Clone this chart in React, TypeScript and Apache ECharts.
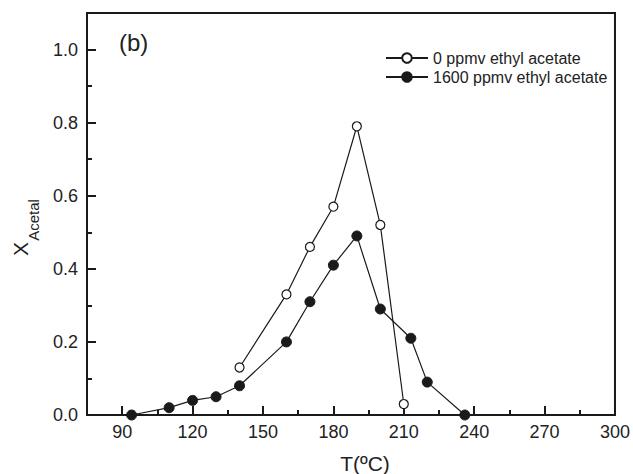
import React, { useEffect, useRef } from "react";
import * as echarts from "echarts";

// Temperature (ºC) and acetal conversion for each feed
const tempNoEA = [140, 160, 170, 180, 190, 200, 210];
const convNoEA = [0.13, 0.33, 0.46, 0.57, 0.79, 0.52, 0.03];

const tempEA = [94, 110, 120, 130, 140, 160, 170, 180, 190, 200, 213, 220, 236];
const convEA = [0.0, 0.02, 0.04, 0.05, 0.08, 0.2, 0.31, 0.41, 0.49, 0.29, 0.21, 0.09, 0.0];

const seriesNames = ["0 ppmv ethyl acetate", "1600 ppmv ethyl acetate"];

const xMajor = [90, 120, 150, 180, 210, 240, 270, 300];
const xMinor = [105, 135, 165, 195, 225, 255, 285];
const yMajor = [0, 0.2, 0.4, 0.6, 0.8, 1.0];
const yMinor = [0.1, 0.3, 0.5, 0.7, 0.9];

const FONT = "'Liberation Sans', Arial, Helvetica, sans-serif";
const INK = "#1a1a1a";
const TEXT = "#222";

const pairs = (xs: number[], ys: number[]) => xs.map((x, i) => [x, ys[i]]);

export default function App() {
  const ref = useRef<HTMLDivElement>(null);

  useEffect(() => {
    if (!ref.current) return;
    const chart = echarts.init(ref.current, null, { renderer: "svg" });

    const baseX = {
      type: "value" as const,
      min: 75,
      max: 300,
      position: "bottom" as const,
      splitLine: { show: false },
    };
    const baseY = {
      type: "value" as const,
      min: 0,
      max: 1.1,
      position: "left" as const,
      splitLine: { show: false },
    };

    chart.setOption({
      animation: false,
      backgroundColor: "#fff",
      grid: {
        left: 87,
        right: 15,
        top: 13,
        bottom: 59,
        show: true,
        borderColor: INK,
        borderWidth: 2,
        backgroundColor: "transparent",
      },
      legend: {
        orient: "vertical",
        left: 385,
        top: 50,
        padding: 0,
        itemWidth: 42,
        itemHeight: 12,
        itemGap: 3,
        data: seriesNames,
        textStyle: { fontFamily: FONT, fontSize: 16, color: TEXT },
      },
      xAxis: [
        {
          ...baseX,
          axisLine: { show: true, lineStyle: { color: INK, width: 2 } },
          axisTick: {
            show: true,
            inside: true,
            length: 9,
            lineStyle: { color: INK, width: 2 },
            customValues: xMajor,
          },
          axisLabel: {
            fontFamily: FONT,
            fontSize: 18,
            color: TEXT,
            margin: 8,
            customValues: xMajor,
          },
        },
        {
          ...baseX,
          axisLine: { show: false },
          axisTick: {
            show: true,
            inside: true,
            length: 5,
            lineStyle: { color: INK, width: 2 },
            customValues: xMinor,
          },
          axisLabel: { show: false },
        },
      ],
      yAxis: [
        {
          ...baseY,
          axisLine: { show: true, lineStyle: { color: INK, width: 2 } },
          axisTick: {
            show: true,
            inside: true,
            length: 9,
            lineStyle: { color: INK, width: 2 },
            customValues: yMajor,
          },
          axisLabel: {
            fontFamily: FONT,
            fontSize: 18,
            color: TEXT,
            margin: 9,
            customValues: yMajor,
            formatter: (v: number) => v.toFixed(1),
          },
        },
        {
          ...baseY,
          axisLine: { show: false },
          axisTick: {
            show: true,
            inside: true,
            length: 5,
            lineStyle: { color: INK, width: 2 },
            customValues: yMinor,
          },
          axisLabel: { show: false },
        },
      ],
      graphic: [
        {
          type: "text",
          left: 119,
          top: 30,
          style: { text: "(b)", fontFamily: FONT, fontSize: 24, fill: TEXT },
        },
        {
          type: "text",
          x: 365,
          y: 463,
          style: {
            text: "T(ºC)",
            fontFamily: FONT,
            fontSize: 21,
            fill: TEXT,
            align: "center",
            verticalAlign: "middle",
          },
        },
        {
          type: "text",
          x: 20,
          y: 249,
          rotation: Math.PI / 2,
          style: {
            text: "X",
            fontFamily: FONT,
            fontSize: 21,
            fill: TEXT,
            align: "center",
            verticalAlign: "middle",
          },
        },
        {
          type: "text",
          x: 33,
          y: 220,
          rotation: Math.PI / 2,
          style: {
            text: "Acetal",
            fontFamily: FONT,
            fontSize: 15,
            fill: TEXT,
            align: "center",
            verticalAlign: "middle",
          },
        },
      ],
      series: [
        {
          name: seriesNames[0],
          type: "line",
          data: pairs(tempNoEA, convNoEA),
          symbol: "circle",
          symbolSize: 9,
          itemStyle: { color: "#fff", borderColor: INK, borderWidth: 1.2 },
          lineStyle: { color: INK, width: 1.2 },
          z: 3,
        },
        {
          name: seriesNames[1],
          type: "line",
          data: pairs(tempEA, convEA),
          symbol: "circle",
          symbolSize: 10,
          itemStyle: { color: INK, borderColor: INK, borderWidth: 1 },
          lineStyle: { color: INK, width: 1.2 },
          z: 4,
        },
      ],
    });

    return () => chart.dispose();
  }, []);

  return <div ref={ref} style={{ width: 633, height: 474, position: "absolute", left: 0, top: 0 }} />;
}
